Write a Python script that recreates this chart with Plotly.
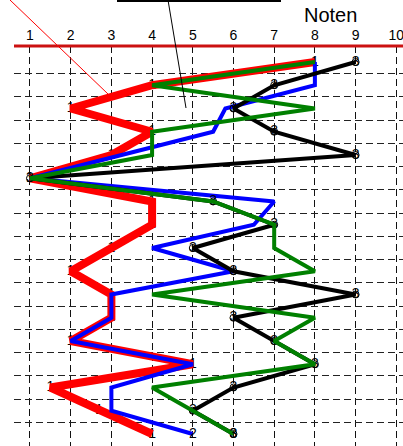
import plotly.graph_objects as go

rows = list(range(1, 18))
red_vals = [8, 4, 2, 4, 3, 1, 4, 4, 3, 2, 3, 3, 2, 5, 1.5, 2.7, 4]
blue_vals = [8, 8, 5.8, 5.5, 3.25, 1, 7, 6.5, 4, 6, 3, 3, 2, 5, 3, 3, 5]
green_vals = [8, 4, 8, 4, 4, 1, 5.5, 7, 7, 8, 4, 8, 7, 8, 4, 5, 6]
black_vals = [9, 7, 6, 7, 9, 1, 5.5, 7, 5, 6, 9, 6, 7, 8, 6, 5, 6]
x_ticks = list(range(1, 11))
grid_rows = [r + 0.5 for r in rows[:-1]]

FONT = "Liberation Sans, Arial, sans-serif"

fig = go.Figure()

# red digit markers (underneath the lines)
fig.add_trace(go.Scatter(x=red_vals, y=rows, mode="text", text=["1"] * len(rows),
                         textfont=dict(size=14, color="#000", family=FONT),
                         textposition="middle center", hoverinfo="skip"))
fig.add_trace(go.Scatter(x=red_vals, y=rows, mode="lines",
                         line=dict(color="#ff0000", width=8)))
blue_text = [""] * (len(rows) - 1) + ["2"]
fig.add_trace(go.Scatter(x=blue_vals, y=rows, mode="lines+text", text=blue_text,
                         textposition="middle center",
                         textfont=dict(size=14, color="#000", family=FONT),
                         line=dict(color="#0000ff", width=4)))
fig.add_trace(go.Scatter(x=black_vals, y=rows, mode="lines+markers+text",
                         text=["3"] * len(rows), textposition="middle center",
                         textfont=dict(size=14, color="#000", family=FONT),
                         marker=dict(symbol="circle-open", size=7, color="#000",
                                     line=dict(width=1, color="#000")),
                         line=dict(color="#000000", width=4)))
green_text = [""] * (len(rows) - 1) + ["3"]
fig.add_trace(go.Scatter(x=green_vals, y=rows, mode="lines+text", text=green_text,
                         textposition="middle center",
                         textfont=dict(size=14, color="#000", family=FONT),
                         line=dict(color="#008000", width=4)))

W, H = 403, 446
EXTRA_R = 8
left, top = 14, 46
pw, ph = W - left, H - top

def px(x):
    return (x - left) / pw

def py(y):
    return (H - y) / ph

shapes = [
    dict(type="line", xref="paper", yref="paper", x0=0, x1=1, y0=1, y1=1,
         line=dict(color="#cc1111", width=3), layer="above"),
    dict(type="rect", xref="paper", yref="paper", x0=px(118), x1=px(280),
         y0=py(1), y1=py(-40), line=dict(color="#000", width=2), fillcolor="rgba(0,0,0,0)"),
    dict(type="line", xref="paper", yref="paper", x0=px(168), y0=py(0),
         x1=px(186), y1=py(108), line=dict(color="#000", width=1)),
    dict(type="line", xref="paper", yref="paper", x0=px(10), y0=py(0),
         x1=px(108), y1=py(94), line=dict(color="#ff0000", width=1)),
]

fig.update_layout(
    width=W + EXTRA_R, height=H,
    margin=dict(l=left, r=EXTRA_R, t=top, b=0),
    paper_bgcolor="#fff", plot_bgcolor="#fff",
    showlegend=False,
    font=dict(family=FONT, color="#000"),
    shapes=shapes,
    annotations=[dict(text="Noten", xref="paper", yref="paper", x=px(330), y=py(15),
                      showarrow=False, font=dict(size=20, color="#000", family=FONT),
                      xanchor="center", yanchor="middle")],
    xaxis=dict(side="top", range=[0.607, 10.165], tickvals=x_ticks,
               ticktext=[str(t) for t in x_ticks], tickfont=dict(size=14, family=FONT),
               showgrid=True, gridcolor="#111", gridwidth=1, griddash="7px,4px",
               showline=False, zeroline=False,
               ticks="", ticklen=0, ticklabelstandoff=2, ticklabeloverflow="allow",
               fixedrange=True),
    yaxis=dict(range=[17.516, 0.312], tickvals=grid_rows, showticklabels=False,
               showgrid=True, gridcolor="#222", gridwidth=1, griddash="7px,4px",
               zeroline=False, showline=False, ticks="", fixedrange=True),
)

fig.write_html("out.html", config={"displayModeBar": False},
               post_script="document.body.style.margin='0';document.body.style.overflow='hidden';")
